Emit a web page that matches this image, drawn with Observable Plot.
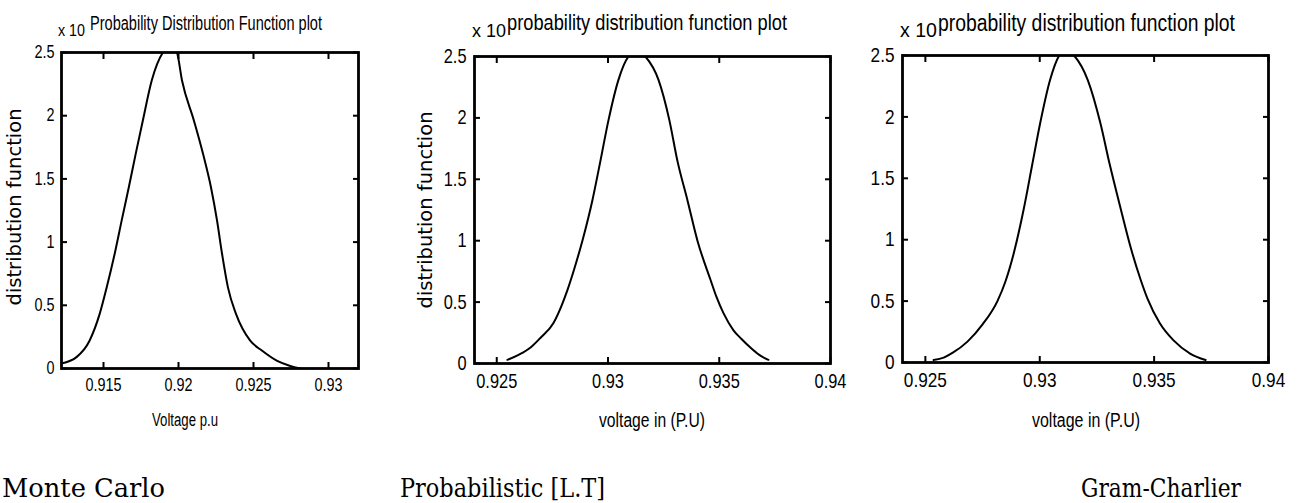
<!DOCTYPE html>
<html><head><meta charset="utf-8">
<script src="https://cdn.jsdelivr.net/npm/d3@7"></script>
<script src="https://cdn.jsdelivr.net/npm/@observablehq/plot@0.6"></script>
<style>
body{margin:0;background:#fff;}
#wrap{position:relative;width:1297px;height:503px;overflow:hidden;background:#fff;}
.abs{position:absolute;white-space:nowrap;color:#000;line-height:1;}
.narrow{font-family:"Liberation Sans",Arial,sans-serif;}
.wide{font-family:"DejaVu Sans","Liberation Sans",sans-serif;}
.cap{font-family:"DejaVu Serif","Liberation Serif",serif;}
svg{position:absolute;top:0;}
</style></head><body><div id="wrap"></div>
<script>
// ---- data ----
const mcVoltage = [0.91220,0.91320,0.91407,0.91474,0.91521,0.91575,0.91621,0.91668,0.91715,0.91762,0.91822,0.91896,0.91942,0.91989,0.92023,0.92103,0.92163,0.92217,0.92257,0.92290,0.92330,0.92384,0.92478,0.92558,0.92658,0.92745,0.92812];
const mcDensity = [0.04,0.09,0.22,0.43,0.64,0.91,1.17,1.43,1.70,1.96,2.28,2.50,2.55,2.50,2.28,1.96,1.70,1.43,1.17,0.91,0.64,0.43,0.22,0.14,0.06,0.02,0.0];
const ltVoltage = [0.92548,0.92598,0.92652,0.92697,0.92755,0.92791,0.92818,0.92850,0.92885,0.92930,0.92966,0.93002,0.93047,0.93092,0.93133,0.93168,0.93227,0.93276,0.93312,0.93357,0.93402,0.93461,0.93488,0.93519,0.93564,0.93600,0.93640,0.93680,0.93721];
const ltDensity = [0.03,0.07,0.13,0.21,0.33,0.47,0.60,0.78,1.00,1.33,1.65,1.98,2.31,2.50,2.55,2.50,2.31,1.98,1.65,1.33,1.00,0.68,0.54,0.41,0.27,0.20,0.13,0.07,0.03];
const gcVoltage = [0.92536,0.92580,0.92620,0.92684,0.92750,0.92815,0.92850,0.92885,0.92930,0.92966,0.93002,0.93045,0.93085,0.93115,0.93150,0.93210,0.93265,0.93305,0.93350,0.93400,0.93440,0.93471,0.93525,0.93585,0.93659,0.93725];
const gcDensity = [0.02,0.04,0.08,0.17,0.31,0.50,0.66,0.88,1.25,1.60,1.95,2.30,2.50,2.55,2.50,2.30,1.95,1.62,1.28,0.92,0.68,0.52,0.32,0.18,0.07,0.02];

const mcTicks = [0.915,0.92,0.925,0.93];
const ltTicks = [0.925,0.93,0.935,0.94];
const yTicks = [0,0.5,1,1.5,2,2.5];

const titles = ["Probability Distribution Function plot","probability distribution function plot","probability distribution function plot"];
const xLabels = ["Voltage p.u","voltage in (P.U)","voltage in (P.U)"];
const yLabel = "distribution function";
const captions = ["Monte Carlo","Probabilistic [L.T]","Gram-Charlier"];
const expLabel = "x 10";

// ---- drawing ----
const wrap = document.getElementById("wrap");
const SANS = '"Liberation Sans",Arial,sans-serif';

function panel(voltage, density, xDomain, xTicks, o) {
  const data = voltage.map((v, i) => ({v, d: density[i]}));
  const fmt = d => String(d);
  const none = () => "";
  const svg = Plot.plot({
    width: o.width, height: 440,
    marginLeft: o.mL, marginRight: o.mR, marginTop: o.mT, marginBottom: o.mB,
    style: {fontFamily: SANS, fontSize: o.fs + "px", color: "#000", background: "transparent", overflow: "visible"},
    x: {domain: xDomain},
    y: {domain: [0, 2.5]},
    marks: [
      Plot.axisX({anchor: "bottom", ticks: xTicks, tickSize: 0, tickPadding: o.xPad, tickFormat: fmt, label: null}),
      Plot.axisX({anchor: "bottom", ticks: xTicks, tickSize: -6, strokeWidth: 2, tickFormat: none, label: null}),
      Plot.axisX({anchor: "top", ticks: xTicks, tickSize: -6, strokeWidth: 2, tickFormat: none, label: null}),
      Plot.axisY({anchor: "left", ticks: yTicks, tickSize: 0, tickPadding: o.yPad, tickFormat: fmt, label: null}),
      Plot.axisY({anchor: "left", ticks: yTicks, tickSize: -6, strokeWidth: 2, tickFormat: none, label: null}),
      Plot.axisY({anchor: "right", ticks: yTicks, tickSize: -6, strokeWidth: 2, tickFormat: none, label: null}),
      Plot.frame({stroke: "#000", strokeWidth: 2.8}),
      Plot.line(data, {x: "v", y: "d", stroke: "#000", strokeWidth: 2, curve: "monotone-x", clip: true})
    ]
  });
  svg.style.left = o.left + "px";
  wrap.appendChild(svg);
  // condense tick label glyphs horizontally (MATLAB-like narrow font)
  svg.querySelectorAll("text").forEach(t => {
    const tr = t.getAttribute("transform") || "";
    t.setAttribute("transform", tr + " scale(" + o.sx + ",1)");
  });
}

panel(mcVoltage, mcDensity, [0.9122, 0.9320], mcTicks, {left: 0, width: 380, mL: 61, mR: 22, mT: 52, mB: 72, fs: 18, xPad: 10, yPad: 7, sx: 0.8});
panel(ltVoltage, ltDensity, [0.924, 0.940], ltTicks, {left: 400, width: 460, mL: 74, mR: 30, mT: 56, mB: 77, fs: 20, xPad: 10, yPad: 8, sx: 0.82});
panel(gcVoltage, gcDensity, [0.924, 0.940], ltTicks, {left: 860, width: 437, mL: 42, mR: 29, mT: 55, mB: 78, fs: 21, xPad: 10, yPad: 8, sx: 0.82});

// text placed by left edge / baseline and squeezed to a target width
function fit(s, cls, fs, left, baseline, w, asc) {
  const el = document.createElement("div");
  el.className = "abs " + cls;
  el.textContent = s;
  el.style.fontSize = fs + "px";
  el.style.left = left + "px";
  el.style.top = (baseline - asc * fs) + "px";
  el.style.transformOrigin = "0 0";
  wrap.appendChild(el);
  const nat = el.getBoundingClientRect().width;
  el.style.transform = "scaleX(" + (w / nat) + ")";
  return el;
}
const A = 0.846;
// titles and exponent labels
fit(titles[0], "narrow", 20, 90, 30, 232, A);
fit(titles[1], "narrow", 22, 507, 31, 280, A);
fit(titles[2], "narrow", 23, 938, 31, 297, A);
fit(expLabel, "narrow", 16, 58, 37, 27, A);
fit(expLabel, "narrow", 19, 472, 37, 34, A);
fit(expLabel, "narrow", 20, 900, 37, 37, A);
// x labels
fit(xLabels[0], "narrow", 18, 185 - 33, 426, 66, A);
fit(xLabels[1], "narrow", 20, 652 - 53, 427, 106, A);
fit(xLabels[2], "narrow", 20, 1086 - 54, 427, 108, A);
// y labels (rotated)
function ylab(s, x, y, fs) {
  const el = document.createElement("div");
  el.className = "abs wide";
  el.textContent = s;
  el.style.fontSize = fs + "px";
  el.style.left = x + "px";
  el.style.top = y + "px";
  el.style.transform = "translate(-50%,-50%) rotate(-90deg)";
  wrap.appendChild(el);
}
ylab(yLabel, 15, 207, 19.5);
ylab(yLabel, 426, 210, 19.5);
// captions
fit(captions[0], "cap", 26, 2, 497, 163, 0.846);
fit(captions[1], "cap", 26, 400, 497, 205, 0.846);
fit(captions[2], "cap", 26, 1081, 497, 160, 0.846);
</script>
</body></html>
